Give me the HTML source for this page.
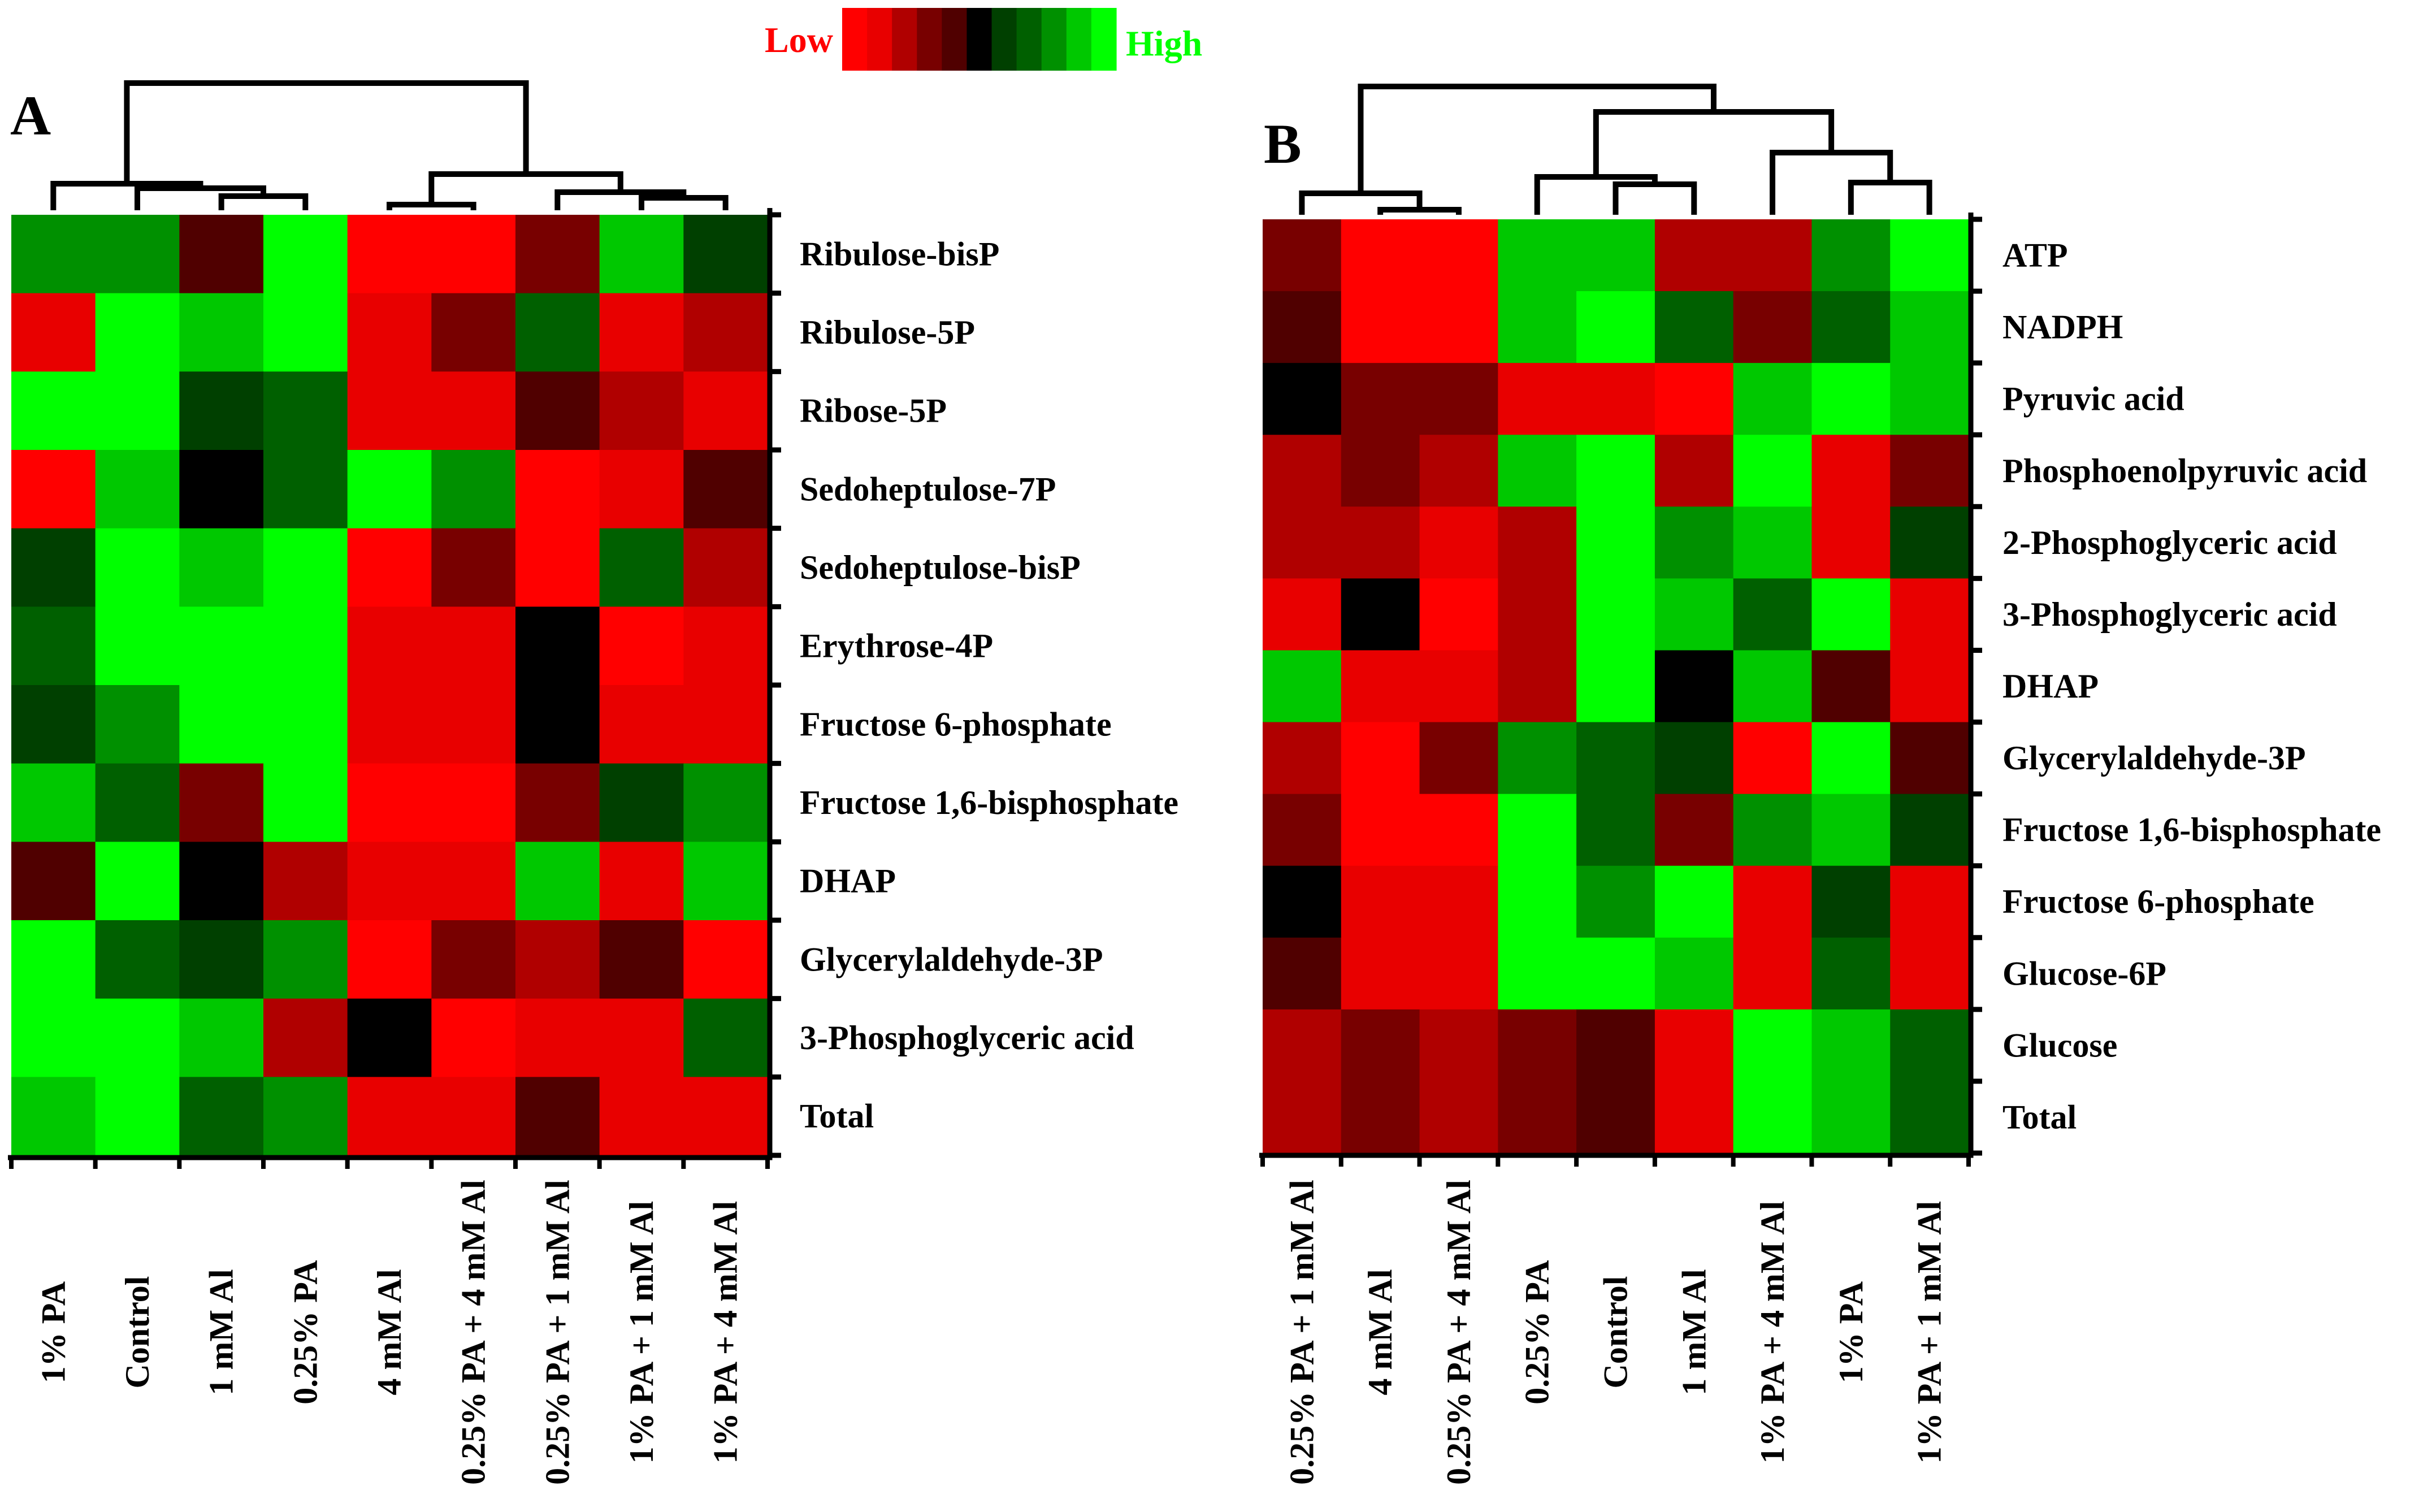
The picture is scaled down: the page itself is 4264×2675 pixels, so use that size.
<!DOCTYPE html>
<html><head><meta charset="utf-8"><style>
html,body{margin:0;padding:0;background:#fff;}
svg{display:block;}
text{font-family:"Liberation Serif",serif;font-weight:bold;}
</style></head><body>
<svg id="fig" width="4264" height="2675" viewBox="0 0 4264 2675" xmlns="http://www.w3.org/2000/svg"></svg>
<script>
const palette = ["#ff0000","#e80000","#b00000","#780000","#500000","#000000","#004000","#006000","#009000","#00c800","#00ff00"];
const colsA = ["1% PA","Control","1 mM Al","0.25% PA","4 mM Al","0.25% PA + 4 mM Al","0.25% PA + 1 mM Al","1% PA + 1 mM Al","1% PA + 4 mM Al"];
const rowsA = ["Ribulose-bisP","Ribulose-5P","Ribose-5P","Sedoheptulose-7P","Sedoheptulose-bisP","Erythrose-4P","Fructose 6-phosphate","Fructose 1,6-bisphosphate","DHAP","Glycerylaldehyde-3P","3-Phosphoglyceric acid","Total"];
const valuesA = [
[8,8,4,10,0,0,3,9,6],
[1,10,9,10,1,3,7,1,2],
[10,10,6,7,1,1,4,2,1],
[0,9,5,7,10,8,0,1,4],
[6,10,9,10,0,3,0,7,2],
[7,10,10,10,1,1,5,0,1],
[6,8,10,10,1,1,5,1,1],
[9,7,3,10,0,0,3,6,8],
[4,10,5,2,1,1,9,1,9],
[10,7,6,8,0,3,2,4,0],
[10,10,9,2,5,0,1,1,7],
[9,10,7,8,1,1,4,1,1]];
const colsB = ["0.25% PA + 1 mM Al","4 mM Al","0.25% PA + 4 mM Al","0.25% PA","Control","1 mM Al","1% PA + 4 mM Al","1% PA","1% PA + 1 mM Al"];
const rowsB = ["ATP","NADPH","Pyruvic acid","Phosphoenolpyruvic acid","2-Phosphoglyceric acid","3-Phosphoglyceric acid","DHAP","Glycerylaldehyde-3P","Fructose 1,6-bisphosphate","Fructose 6-phosphate","Glucose-6P","Glucose","Total"];
const valuesB = [
[3,0,0,9,9,2,2,8,10],
[4,0,0,9,10,7,3,7,9],
[5,3,3,1,1,0,9,10,9],
[2,3,2,9,10,2,10,1,3],
[2,2,1,2,10,8,9,1,6],
[1,5,0,2,10,9,7,10,1],
[9,1,1,2,10,5,9,4,1],
[2,0,3,8,7,6,0,10,4],
[3,0,0,10,7,3,8,9,6],
[5,1,1,10,8,10,1,6,1],
[4,1,1,10,10,9,1,7,1],
[2,3,2,3,4,1,10,9,7],
[2,3,2,3,4,1,10,9,7]];
// dendrograms: [left, right, heightY]; leaves are column indices
const treeA = [[0,[1,[2,3,347],333],325],[[4,5,362],[6,[7,8,350],340],308],147];
const treeB = [[0,[1,2,371],342],[[3,[4,5,326],313],[6,[7,8,323],270],198],153];

const NS = "http://www.w3.org/2000/svg";
const svg = document.getElementById("fig");
function el(tag, attrs, parent){ const e=document.createElementNS(NS,tag); for(const k in attrs) e.setAttribute(k,attrs[k]); (parent||svg).appendChild(e); return e; }

function panel(cfg){
  const g = el("g",{});
  
  
  const nR = cfg.rows.length, nC = cfg.cols.length;
  const cw = (cfg.x1-cfg.x0)/nC, rh = (cfg.y1-cfg.y0)/nR;
  const xS = i => cfg.x0 + i*cw, yS = j => cfg.y0 + j*rh;
  cfg.values.forEach((row,j)=>row.forEach((v,i)=>{
    const r = el("rect",{x:xS(i),y:yS(j),width:cw+0.6,height:rh+0.6,fill:palette[v]},g);
    
    
  }));
  // axes
  const ax = el("path",{d:`M${cfg.x1+4},${cfg.y0-12} V${cfg.y1+4} H${cfg.x0-6}`,stroke:"#000","stroke-width":9,fill:"none"},g);
  
  
  for(let j=0;j<=nR;j++) el("line",{x1:cfg.x1+4,x2:cfg.x1+24,y1:yS(j),y2:yS(j),stroke:"#000","stroke-width":9},g);
  for(let i=0;i<=nC;i++) el("line",{x1:xS(i),x2:xS(i),y1:cfg.y1+4,y2:cfg.y1+24,stroke:"#000","stroke-width":8},g);
  cfg.rows.forEach((name,j)=>{
    const t = el("text",{x:cfg.labelX,y:yS(j)+rh/2+20,"font-size":60},g);
    t.textContent = name;
    
    
  });
  cfg.cols.forEach((name,i)=>{
    const cx = xS(i)+cw/2+20, cy = 2357;
    const t = el("text",{x:cx,y:cy,"font-size":60,"text-anchor":"middle",transform:`rotate(-90 ${cx} ${cy})`},g);
    t.textContent = name;
    
    
  });
  // dendrogram
  const leafBottom = cfg.y0 - 8;
  function draw(node){
    if(typeof node === "number") return {x:xS(node)+cw/2, y:leafBottom};
    const a = draw(node[0]), b = draw(node[1]), h = node[2];
    const p = el("path",{d:`M${a.x},${a.y} V${h} H${b.x} V${b.y}`,stroke:"#000","stroke-width":10,fill:"none","stroke-linejoin":"miter"},g);
    
    
    return {x:(a.x+b.x)/2, y:h};
  }
  draw(cfg.tree);
  const L = el("text",{x:cfg.letterX,y:cfg.letterY,"font-size":100},g);
  L.textContent = cfg.letter;
  
  
}

panel({name:"panel-a",rows:rowsA,cols:colsA,values:valuesA,tree:treeA,x0:20,x1:1358,y0:380,y1:2044,labelX:1415,letter:"A",letterX:18,letterY:238});
panel({name:"panel-b",rows:rowsB,cols:colsB,values:valuesB,tree:treeB,x0:2234,x1:3483,y0:388,y1:2040,labelX:3543,letter:"B",letterX:2236,letterY:288});

// color legend
const lg = el("g",{});


const lw = (1975-1490)/palette.length;
palette.forEach((c,i)=>{
  const r = el("rect",{x:1490+i*lw,y:14,width:lw+0.6,height:111,fill:c},lg);
  
  
});
const lo = el("text",{x:1353,y:92,"font-size":64,fill:"#ff0000"},lg);
lo.textContent = "Low";


const hi = el("text",{x:1992,y:98,"font-size":64,fill:"#00ff00"},lg);
hi.textContent = "High";


</script>
</body></html>
